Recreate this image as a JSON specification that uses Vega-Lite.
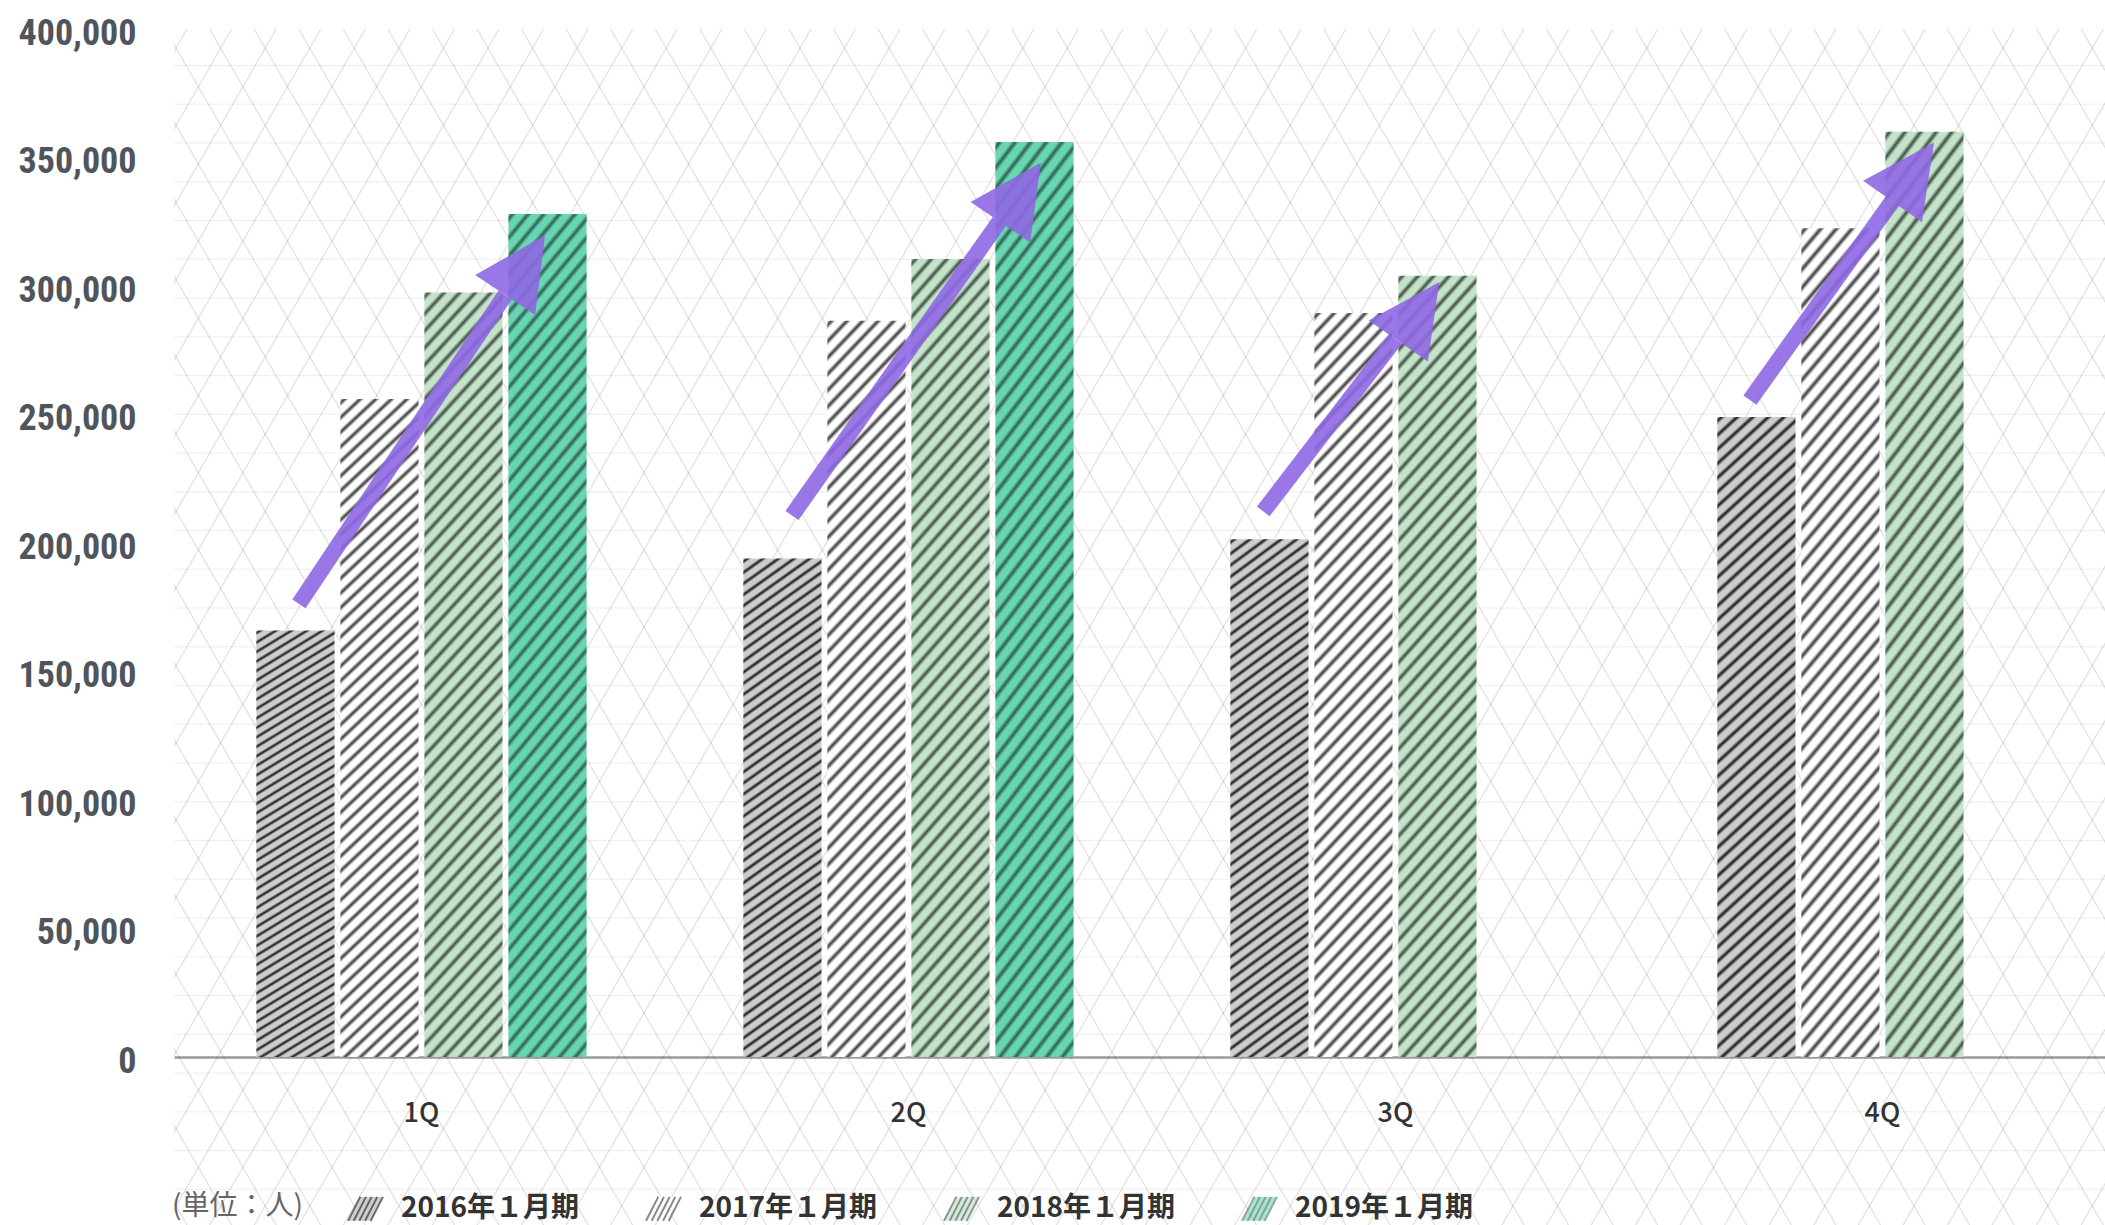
{
  "$schema": "https://vega.github.io/schema/vega-lite/v6.json",
  "width": 1931,
  "height": 1028,
  "autosize": {"type": "none"},
  "padding": {"left": 174, "top": 29, "right": 0, "bottom": 168},
  "background": "#ffffff",
  "config": {"view": {"stroke": null}, "font": "Noto Sans CJK JP"},
  "datasets": {
    "bars": [
      {"quarter": "1Q", "series": "2016年１月期", "value": 166000},
      {"quarter": "1Q", "series": "2017年１月期", "value": 256000},
      {"quarter": "1Q", "series": "2018年１月期", "value": 297500},
      {"quarter": "1Q", "series": "2019年１月期", "value": 328000},
      {"quarter": "2Q", "series": "2016年１月期", "value": 194000},
      {"quarter": "2Q", "series": "2017年１月期", "value": 286500},
      {"quarter": "2Q", "series": "2018年１月期", "value": 310500},
      {"quarter": "2Q", "series": "2019年１月期", "value": 356000},
      {"quarter": "3Q", "series": "2016年１月期", "value": 201500},
      {"quarter": "3Q", "series": "2017年１月期", "value": 289500},
      {"quarter": "3Q", "series": "2018年１月期", "value": 304000},
      {"quarter": "4Q", "series": "2016年１月期", "value": 249000},
      {"quarter": "4Q", "series": "2017年１月期", "value": 322500},
      {"quarter": "4Q", "series": "2018年１月期", "value": 360000}
    ],
    "arrows": [
      {"quarter": "1Q", "part": "start", "at": 0.516, "value": 176300},
      {"quarter": "1Q", "part": "base", "at": 3.013, "value": 296500},
      {"quarter": "1Q", "part": "tip", "at": 3.498, "value": 319800},
      {"quarter": "2Q", "part": "start", "at": 0.589, "value": 210700},
      {"quarter": "2Q", "part": "base", "at": 3.101, "value": 325100},
      {"quarter": "2Q", "part": "tip", "at": 3.604, "value": 348000},
      {"quarter": "3Q", "part": "start", "at": 0.399, "value": 212300},
      {"quarter": "3Q", "part": "base", "at": 2.0, "value": 279300},
      {"quarter": "3Q", "part": "tip", "at": 2.531, "value": 301600},
      {"quarter": "4Q", "part": "start", "at": 0.395, "value": 255600},
      {"quarter": "4Q", "part": "base", "at": 2.118, "value": 333000},
      {"quarter": "4Q", "part": "tip", "at": 2.625, "value": 355800}
    ]
  },
  "layer": [
    {
      "data": {"values": [{}]},
      "mark": {"type": "rect", "opacity": 0.06, "fill": {"gradient": "linear", "x1": 0, "y1": 0, "x2": 0, "y2": 1, "stops": [
        {"offset":0.0295,"color":"#0000"},{"offset":0.0305,"color":"#000"},{"offset":0.0315,"color":"#0000"},
        {"offset":0.0619,"color":"#0000"},{"offset":0.0629,"color":"#000"},{"offset":0.0639,"color":"#0000"},
        {"offset":0.0943,"color":"#0000"},{"offset":0.0953,"color":"#000"},{"offset":0.0963,"color":"#0000"},
        {"offset":0.1267,"color":"#0000"},{"offset":0.1277,"color":"#000"},{"offset":0.1287,"color":"#0000"},
        {"offset":0.1591,"color":"#0000"},{"offset":0.1601,"color":"#000"},{"offset":0.1611,"color":"#0000"},
        {"offset":0.1915,"color":"#0000"},{"offset":0.1925,"color":"#000"},{"offset":0.1935,"color":"#0000"},
        {"offset":0.2239,"color":"#0000"},{"offset":0.2249,"color":"#000"},{"offset":0.2259,"color":"#0000"},
        {"offset":0.2563,"color":"#0000"},{"offset":0.2573,"color":"#000"},{"offset":0.2583,"color":"#0000"},
        {"offset":0.2887,"color":"#0000"},{"offset":0.2897,"color":"#000"},{"offset":0.2907,"color":"#0000"},
        {"offset":0.3211,"color":"#0000"},{"offset":0.3221,"color":"#000"},{"offset":0.3231,"color":"#0000"},
        {"offset":0.3535,"color":"#0000"},{"offset":0.3545,"color":"#000"},{"offset":0.3555,"color":"#0000"},
        {"offset":0.3859,"color":"#0000"},{"offset":0.3869,"color":"#000"},{"offset":0.3879,"color":"#0000"},
        {"offset":0.4183,"color":"#0000"},{"offset":0.4193,"color":"#000"},{"offset":0.4203,"color":"#0000"},
        {"offset":0.4507,"color":"#0000"},{"offset":0.4517,"color":"#000"},{"offset":0.4527,"color":"#0000"},
        {"offset":0.4831,"color":"#0000"},{"offset":0.4841,"color":"#000"},{"offset":0.4851,"color":"#0000"},
        {"offset":0.5155,"color":"#0000"},{"offset":0.5165,"color":"#000"},{"offset":0.5175,"color":"#0000"},
        {"offset":0.5479,"color":"#0000"},{"offset":0.5489,"color":"#000"},{"offset":0.5499,"color":"#0000"},
        {"offset":0.5803,"color":"#0000"},{"offset":0.5813,"color":"#000"},{"offset":0.5823,"color":"#0000"},
        {"offset":0.6127,"color":"#0000"},{"offset":0.6137,"color":"#000"},{"offset":0.6147,"color":"#0000"},
        {"offset":0.6451,"color":"#0000"},{"offset":0.6461,"color":"#000"},{"offset":0.6471,"color":"#0000"},
        {"offset":0.6775,"color":"#0000"},{"offset":0.6785,"color":"#000"},{"offset":0.6795,"color":"#0000"},
        {"offset":0.7099,"color":"#0000"},{"offset":0.7109,"color":"#000"},{"offset":0.7119,"color":"#0000"},
        {"offset":0.7423,"color":"#0000"},{"offset":0.7433,"color":"#000"},{"offset":0.7443,"color":"#0000"},
        {"offset":0.7747,"color":"#0000"},{"offset":0.7757,"color":"#000"},{"offset":0.7767,"color":"#0000"},
        {"offset":0.8071,"color":"#0000"},{"offset":0.8081,"color":"#000"},{"offset":0.8091,"color":"#0000"},
        {"offset":0.8395,"color":"#0000"},{"offset":0.8405,"color":"#000"},{"offset":0.8415,"color":"#0000"},
        {"offset":0.8719,"color":"#0000"},{"offset":0.8729,"color":"#000"},{"offset":0.8739,"color":"#0000"},
        {"offset":0.9043,"color":"#0000"},{"offset":0.9053,"color":"#000"},{"offset":0.9063,"color":"#0000"},
        {"offset":0.9367,"color":"#0000"},{"offset":0.9377,"color":"#000"},{"offset":0.9387,"color":"#0000"},
        {"offset":0.9691,"color":"#0000"},{"offset":0.9701,"color":"#000"},{"offset":0.9711,"color":"#0000"}
      ]}},
      "encoding": {"y": {"datum": -65400, "type": "quantitative"}, "y2": {"datum": 400000}}
    },
    {
      "data": {"values": [{}]},
      "mark": {"type": "rect", "opacity": 0.13, "fill": {"gradient": "linear", "x1": 0, "y1": 0, "x2": 1.2036, "y2": 0.4304, "stops": [
        {"offset":0.0045,"color":"#0000"},{"offset":0.005,"color":"#000"},{"offset":0.0055,"color":"#0000"},
        {"offset":0.0215,"color":"#0000"},{"offset":0.022,"color":"#000"},{"offset":0.0225,"color":"#0000"},
        {"offset":0.0385,"color":"#0000"},{"offset":0.039,"color":"#000"},{"offset":0.0395,"color":"#0000"},
        {"offset":0.0555,"color":"#0000"},{"offset":0.056,"color":"#000"},{"offset":0.0565,"color":"#0000"},
        {"offset":0.0725,"color":"#0000"},{"offset":0.073,"color":"#000"},{"offset":0.0735,"color":"#0000"},
        {"offset":0.0895,"color":"#0000"},{"offset":0.09,"color":"#000"},{"offset":0.0905,"color":"#0000"},
        {"offset":0.1065,"color":"#0000"},{"offset":0.107,"color":"#000"},{"offset":0.1075,"color":"#0000"},
        {"offset":0.1235,"color":"#0000"},{"offset":0.124,"color":"#000"},{"offset":0.1245,"color":"#0000"},
        {"offset":0.1405,"color":"#0000"},{"offset":0.141,"color":"#000"},{"offset":0.1415,"color":"#0000"},
        {"offset":0.1575,"color":"#0000"},{"offset":0.158,"color":"#000"},{"offset":0.1585,"color":"#0000"},
        {"offset":0.1745,"color":"#0000"},{"offset":0.175,"color":"#000"},{"offset":0.1755,"color":"#0000"},
        {"offset":0.1915,"color":"#0000"},{"offset":0.192,"color":"#000"},{"offset":0.1925,"color":"#0000"},
        {"offset":0.2085,"color":"#0000"},{"offset":0.209,"color":"#000"},{"offset":0.2095,"color":"#0000"},
        {"offset":0.2255,"color":"#0000"},{"offset":0.226,"color":"#000"},{"offset":0.2265,"color":"#0000"},
        {"offset":0.2425,"color":"#0000"},{"offset":0.243,"color":"#000"},{"offset":0.2435,"color":"#0000"},
        {"offset":0.2595,"color":"#0000"},{"offset":0.26,"color":"#000"},{"offset":0.2605,"color":"#0000"},
        {"offset":0.2765,"color":"#0000"},{"offset":0.277,"color":"#000"},{"offset":0.2775,"color":"#0000"},
        {"offset":0.2935,"color":"#0000"},{"offset":0.294,"color":"#000"},{"offset":0.2945,"color":"#0000"},
        {"offset":0.3105,"color":"#0000"},{"offset":0.311,"color":"#000"},{"offset":0.3115,"color":"#0000"},
        {"offset":0.3275,"color":"#0000"},{"offset":0.328,"color":"#000"},{"offset":0.3285,"color":"#0000"},
        {"offset":0.3445,"color":"#0000"},{"offset":0.345,"color":"#000"},{"offset":0.3455,"color":"#0000"},
        {"offset":0.3615,"color":"#0000"},{"offset":0.362,"color":"#000"},{"offset":0.3625,"color":"#0000"},
        {"offset":0.3785,"color":"#0000"},{"offset":0.379,"color":"#000"},{"offset":0.3795,"color":"#0000"},
        {"offset":0.3955,"color":"#0000"},{"offset":0.396,"color":"#000"},{"offset":0.3965,"color":"#0000"},
        {"offset":0.4125,"color":"#0000"},{"offset":0.413,"color":"#000"},{"offset":0.4135,"color":"#0000"},
        {"offset":0.4295,"color":"#0000"},{"offset":0.43,"color":"#000"},{"offset":0.4305,"color":"#0000"},
        {"offset":0.4465,"color":"#0000"},{"offset":0.447,"color":"#000"},{"offset":0.4475,"color":"#0000"},
        {"offset":0.4635,"color":"#0000"},{"offset":0.464,"color":"#000"},{"offset":0.4645,"color":"#0000"},
        {"offset":0.4805,"color":"#0000"},{"offset":0.481,"color":"#000"},{"offset":0.4815,"color":"#0000"},
        {"offset":0.4975,"color":"#0000"},{"offset":0.498,"color":"#000"},{"offset":0.4985,"color":"#0000"},
        {"offset":0.5145,"color":"#0000"},{"offset":0.515,"color":"#000"},{"offset":0.5155,"color":"#0000"},
        {"offset":0.5315,"color":"#0000"},{"offset":0.532,"color":"#000"},{"offset":0.5325,"color":"#0000"},
        {"offset":0.5485,"color":"#0000"},{"offset":0.549,"color":"#000"},{"offset":0.5495,"color":"#0000"},
        {"offset":0.5655,"color":"#0000"},{"offset":0.566,"color":"#000"},{"offset":0.5665,"color":"#0000"},
        {"offset":0.5825,"color":"#0000"},{"offset":0.583,"color":"#000"},{"offset":0.5835,"color":"#0000"},
        {"offset":0.5995,"color":"#0000"},{"offset":0.6,"color":"#000"},{"offset":0.6005,"color":"#0000"},
        {"offset":0.6165,"color":"#0000"},{"offset":0.617,"color":"#000"},{"offset":0.6175,"color":"#0000"},
        {"offset":0.6335,"color":"#0000"},{"offset":0.634,"color":"#000"},{"offset":0.6345,"color":"#0000"},
        {"offset":0.6505,"color":"#0000"},{"offset":0.651,"color":"#000"},{"offset":0.6515,"color":"#0000"},
        {"offset":0.6675,"color":"#0000"},{"offset":0.668,"color":"#000"},{"offset":0.6685,"color":"#0000"},
        {"offset":0.6845,"color":"#0000"},{"offset":0.685,"color":"#000"},{"offset":0.6855,"color":"#0000"},
        {"offset":0.7015,"color":"#0000"},{"offset":0.702,"color":"#000"},{"offset":0.7025,"color":"#0000"},
        {"offset":0.7185,"color":"#0000"},{"offset":0.719,"color":"#000"},{"offset":0.7195,"color":"#0000"},
        {"offset":0.7355,"color":"#0000"},{"offset":0.736,"color":"#000"},{"offset":0.7365,"color":"#0000"},
        {"offset":0.7525,"color":"#0000"},{"offset":0.753,"color":"#000"},{"offset":0.7535,"color":"#0000"},
        {"offset":0.7695,"color":"#0000"},{"offset":0.77,"color":"#000"},{"offset":0.7705,"color":"#0000"},
        {"offset":0.7865,"color":"#0000"},{"offset":0.787,"color":"#000"},{"offset":0.7875,"color":"#0000"},
        {"offset":0.8035,"color":"#0000"},{"offset":0.804,"color":"#000"},{"offset":0.8045,"color":"#0000"},
        {"offset":0.8205,"color":"#0000"},{"offset":0.821,"color":"#000"},{"offset":0.8215,"color":"#0000"},
        {"offset":0.8375,"color":"#0000"},{"offset":0.838,"color":"#000"},{"offset":0.8385,"color":"#0000"},
        {"offset":0.8545,"color":"#0000"},{"offset":0.855,"color":"#000"},{"offset":0.8555,"color":"#0000"},
        {"offset":0.8715,"color":"#0000"},{"offset":0.872,"color":"#000"},{"offset":0.8725,"color":"#0000"},
        {"offset":0.8885,"color":"#0000"},{"offset":0.889,"color":"#000"},{"offset":0.8895,"color":"#0000"},
        {"offset":0.9055,"color":"#0000"},{"offset":0.906,"color":"#000"},{"offset":0.9065,"color":"#0000"},
        {"offset":0.9225,"color":"#0000"},{"offset":0.923,"color":"#000"},{"offset":0.9235,"color":"#0000"},
        {"offset":0.9395,"color":"#0000"},{"offset":0.94,"color":"#000"},{"offset":0.9405,"color":"#0000"},
        {"offset":0.9565,"color":"#0000"},{"offset":0.957,"color":"#000"},{"offset":0.9575,"color":"#0000"},
        {"offset":0.9735,"color":"#0000"},{"offset":0.974,"color":"#000"},{"offset":0.9745,"color":"#0000"},
        {"offset":0.9905,"color":"#0000"},{"offset":0.991,"color":"#000"},{"offset":0.9915,"color":"#0000"}
      ]}},
      "encoding": {"y": {"datum": -65400, "type": "quantitative"}, "y2": {"datum": 400000}}
    },
    {
      "data": {"values": [{}]},
      "mark": {"type": "rect", "opacity": 0.13, "fill": {"gradient": "linear", "x1": 0, "y1": 1, "x2": 1.2036, "y2": 0.5696, "stops": [
        {"offset":0.0045,"color":"#0000"},{"offset":0.005,"color":"#000"},{"offset":0.0055,"color":"#0000"},
        {"offset":0.0215,"color":"#0000"},{"offset":0.022,"color":"#000"},{"offset":0.0225,"color":"#0000"},
        {"offset":0.0385,"color":"#0000"},{"offset":0.039,"color":"#000"},{"offset":0.0395,"color":"#0000"},
        {"offset":0.0555,"color":"#0000"},{"offset":0.056,"color":"#000"},{"offset":0.0565,"color":"#0000"},
        {"offset":0.0725,"color":"#0000"},{"offset":0.073,"color":"#000"},{"offset":0.0735,"color":"#0000"},
        {"offset":0.0895,"color":"#0000"},{"offset":0.09,"color":"#000"},{"offset":0.0905,"color":"#0000"},
        {"offset":0.1065,"color":"#0000"},{"offset":0.107,"color":"#000"},{"offset":0.1075,"color":"#0000"},
        {"offset":0.1235,"color":"#0000"},{"offset":0.124,"color":"#000"},{"offset":0.1245,"color":"#0000"},
        {"offset":0.1405,"color":"#0000"},{"offset":0.141,"color":"#000"},{"offset":0.1415,"color":"#0000"},
        {"offset":0.1575,"color":"#0000"},{"offset":0.158,"color":"#000"},{"offset":0.1585,"color":"#0000"},
        {"offset":0.1745,"color":"#0000"},{"offset":0.175,"color":"#000"},{"offset":0.1755,"color":"#0000"},
        {"offset":0.1915,"color":"#0000"},{"offset":0.192,"color":"#000"},{"offset":0.1925,"color":"#0000"},
        {"offset":0.2085,"color":"#0000"},{"offset":0.209,"color":"#000"},{"offset":0.2095,"color":"#0000"},
        {"offset":0.2255,"color":"#0000"},{"offset":0.226,"color":"#000"},{"offset":0.2265,"color":"#0000"},
        {"offset":0.2425,"color":"#0000"},{"offset":0.243,"color":"#000"},{"offset":0.2435,"color":"#0000"},
        {"offset":0.2595,"color":"#0000"},{"offset":0.26,"color":"#000"},{"offset":0.2605,"color":"#0000"},
        {"offset":0.2765,"color":"#0000"},{"offset":0.277,"color":"#000"},{"offset":0.2775,"color":"#0000"},
        {"offset":0.2935,"color":"#0000"},{"offset":0.294,"color":"#000"},{"offset":0.2945,"color":"#0000"},
        {"offset":0.3105,"color":"#0000"},{"offset":0.311,"color":"#000"},{"offset":0.3115,"color":"#0000"},
        {"offset":0.3275,"color":"#0000"},{"offset":0.328,"color":"#000"},{"offset":0.3285,"color":"#0000"},
        {"offset":0.3445,"color":"#0000"},{"offset":0.345,"color":"#000"},{"offset":0.3455,"color":"#0000"},
        {"offset":0.3615,"color":"#0000"},{"offset":0.362,"color":"#000"},{"offset":0.3625,"color":"#0000"},
        {"offset":0.3785,"color":"#0000"},{"offset":0.379,"color":"#000"},{"offset":0.3795,"color":"#0000"},
        {"offset":0.3955,"color":"#0000"},{"offset":0.396,"color":"#000"},{"offset":0.3965,"color":"#0000"},
        {"offset":0.4125,"color":"#0000"},{"offset":0.413,"color":"#000"},{"offset":0.4135,"color":"#0000"},
        {"offset":0.4295,"color":"#0000"},{"offset":0.43,"color":"#000"},{"offset":0.4305,"color":"#0000"},
        {"offset":0.4465,"color":"#0000"},{"offset":0.447,"color":"#000"},{"offset":0.4475,"color":"#0000"},
        {"offset":0.4635,"color":"#0000"},{"offset":0.464,"color":"#000"},{"offset":0.4645,"color":"#0000"},
        {"offset":0.4805,"color":"#0000"},{"offset":0.481,"color":"#000"},{"offset":0.4815,"color":"#0000"},
        {"offset":0.4975,"color":"#0000"},{"offset":0.498,"color":"#000"},{"offset":0.4985,"color":"#0000"},
        {"offset":0.5145,"color":"#0000"},{"offset":0.515,"color":"#000"},{"offset":0.5155,"color":"#0000"},
        {"offset":0.5315,"color":"#0000"},{"offset":0.532,"color":"#000"},{"offset":0.5325,"color":"#0000"},
        {"offset":0.5485,"color":"#0000"},{"offset":0.549,"color":"#000"},{"offset":0.5495,"color":"#0000"},
        {"offset":0.5655,"color":"#0000"},{"offset":0.566,"color":"#000"},{"offset":0.5665,"color":"#0000"},
        {"offset":0.5825,"color":"#0000"},{"offset":0.583,"color":"#000"},{"offset":0.5835,"color":"#0000"},
        {"offset":0.5995,"color":"#0000"},{"offset":0.6,"color":"#000"},{"offset":0.6005,"color":"#0000"},
        {"offset":0.6165,"color":"#0000"},{"offset":0.617,"color":"#000"},{"offset":0.6175,"color":"#0000"},
        {"offset":0.6335,"color":"#0000"},{"offset":0.634,"color":"#000"},{"offset":0.6345,"color":"#0000"},
        {"offset":0.6505,"color":"#0000"},{"offset":0.651,"color":"#000"},{"offset":0.6515,"color":"#0000"},
        {"offset":0.6675,"color":"#0000"},{"offset":0.668,"color":"#000"},{"offset":0.6685,"color":"#0000"},
        {"offset":0.6845,"color":"#0000"},{"offset":0.685,"color":"#000"},{"offset":0.6855,"color":"#0000"},
        {"offset":0.7015,"color":"#0000"},{"offset":0.702,"color":"#000"},{"offset":0.7025,"color":"#0000"},
        {"offset":0.7185,"color":"#0000"},{"offset":0.719,"color":"#000"},{"offset":0.7195,"color":"#0000"},
        {"offset":0.7355,"color":"#0000"},{"offset":0.736,"color":"#000"},{"offset":0.7365,"color":"#0000"},
        {"offset":0.7525,"color":"#0000"},{"offset":0.753,"color":"#000"},{"offset":0.7535,"color":"#0000"},
        {"offset":0.7695,"color":"#0000"},{"offset":0.77,"color":"#000"},{"offset":0.7705,"color":"#0000"},
        {"offset":0.7865,"color":"#0000"},{"offset":0.787,"color":"#000"},{"offset":0.7875,"color":"#0000"},
        {"offset":0.8035,"color":"#0000"},{"offset":0.804,"color":"#000"},{"offset":0.8045,"color":"#0000"},
        {"offset":0.8205,"color":"#0000"},{"offset":0.821,"color":"#000"},{"offset":0.8215,"color":"#0000"},
        {"offset":0.8375,"color":"#0000"},{"offset":0.838,"color":"#000"},{"offset":0.8385,"color":"#0000"},
        {"offset":0.8545,"color":"#0000"},{"offset":0.855,"color":"#000"},{"offset":0.8555,"color":"#0000"},
        {"offset":0.8715,"color":"#0000"},{"offset":0.872,"color":"#000"},{"offset":0.8725,"color":"#0000"},
        {"offset":0.8885,"color":"#0000"},{"offset":0.889,"color":"#000"},{"offset":0.8895,"color":"#0000"},
        {"offset":0.9055,"color":"#0000"},{"offset":0.906,"color":"#000"},{"offset":0.9065,"color":"#0000"},
        {"offset":0.9225,"color":"#0000"},{"offset":0.923,"color":"#000"},{"offset":0.9235,"color":"#0000"},
        {"offset":0.9395,"color":"#0000"},{"offset":0.94,"color":"#000"},{"offset":0.9405,"color":"#0000"},
        {"offset":0.9565,"color":"#0000"},{"offset":0.957,"color":"#000"},{"offset":0.9575,"color":"#0000"},
        {"offset":0.9735,"color":"#0000"},{"offset":0.974,"color":"#000"},{"offset":0.9745,"color":"#0000"},
        {"offset":0.9905,"color":"#0000"},{"offset":0.991,"color":"#000"},{"offset":0.9915,"color":"#0000"}
      ]}},
      "encoding": {"y": {"datum": -65400, "type": "quantitative"}, "y2": {"datum": 400000}}
    },
    {
      "data": {"name": "bars"},
      "mark": {"type": "bar", "strokeWidth": 0, "opacity": 0.93},
      "encoding": {
        "x": {"field": "quarter", "type": "nominal", "sort": ["1Q", "2Q", "3Q", "4Q"],
          "scale": {"paddingInner": 0.322, "paddingOuter": 0.1436, "align": 0.589},
          "axis": {"title": null, "labelAngle": 0, "ticks": false, "domain": true, "domainColor": "#9a9a9a", "domainWidth": 2.5, "grid": false,
            "labelFontSize": 27, "labelColor": "#333333", "labelFontWeight": 500, "labelPadding": 43, "labelFont": "Noto Sans CJK JP"}},
        "xOffset": {"field": "series", "type": "nominal",
          "scale": {"domain": ["2016年１月期", "2017年１月期", "2018年１月期", "2019年１月期"], "paddingInner": 0.07, "paddingOuter": 0}},
        "y": {"field": "value", "type": "quantitative",
          "scale": {"domain": [0, 400000], "nice": false},
          "axis": {"title": null, "values": [0, 50000, 100000, 150000, 200000, 250000, 300000, 350000, 400000], "format": ",d",
            "domain": false, "ticks": false, "grid": false, "labelFont": "Roboto Condensed, Roboto",
            "labelFontWeight": "bold", "labelFontSize": 36, "labelColor": "#50555d", "labelPadding": 38, "labelOffset": 4}},
        "color": {"field": "series", "type": "nominal",
          "scale": {"domain": ["2016年１月期", "2017年１月期", "2018年１月期", "2019年１月期"], "range": ["#c9c9c9", "#ffffff", "#bfe2c6", "#5cd3ac"]},
          "legend": {
            "title": "(単位：人)", "orient": "none", "legendX": -2, "legendY": 1161, "direction": "horizontal",
            "titleOrient": "left", "titleFontSize": 28, "titleFontWeight": "normal", "titleColor": "#666666", "titlePadding": 44, "titleFont": "Noto Sans CJK JP",
            "titleBaseline": "middle",
            "labelFontSize": 28, "labelFont": "Noto Sans CJK JP", "labelFontWeight": "bold", "labelColor": "#333333", "labelOffset": 17, "labelLimit": 400,
            "symbolType": "M-1,0.68L-0.3,-0.68L1,-0.68L0.3,0.68ZM-0.675,0.68L0.025,-0.68M-0.35,0.68L0.35,-0.68M-0.025,0.68L0.675,-0.68",
            "symbolSize": 1225, "symbolStrokeWidth": 2, "symbolStrokeColor": "rgba(0,0,0,0.6)", "symbolDash": [26.77, 22.75, 26.77, 22.75],
            "symbolOpacity": 1, "columnPadding": 62
          }}
      }
    },
    {
      "data": {"name": "bars"},
      "mark": {"type": "bar", "strokeWidth": 0, "fill": {"gradient": "linear", "x1": 0, "y1": 0, "x2": 0.1223, "y2": 1.0978, "stops": [
        {"offset":0,"color":"#0000"},{"offset":0.0055,"color":"#000"},{"offset":0.011,"color":"#0000"},
        {"offset":0.02,"color":"#0000"},{"offset":0.0255,"color":"#000"},{"offset":0.031,"color":"#0000"},
        {"offset":0.04,"color":"#0000"},{"offset":0.0455,"color":"#000"},{"offset":0.051,"color":"#0000"},
        {"offset":0.06,"color":"#0000"},{"offset":0.0655,"color":"#000"},{"offset":0.071,"color":"#0000"},
        {"offset":0.08,"color":"#0000"},{"offset":0.0855,"color":"#000"},{"offset":0.091,"color":"#0000"},
        {"offset":0.1,"color":"#0000"},{"offset":0.1055,"color":"#000"},{"offset":0.111,"color":"#0000"},
        {"offset":0.12,"color":"#0000"},{"offset":0.1255,"color":"#000"},{"offset":0.131,"color":"#0000"},
        {"offset":0.14,"color":"#0000"},{"offset":0.1455,"color":"#000"},{"offset":0.151,"color":"#0000"},
        {"offset":0.16,"color":"#0000"},{"offset":0.1655,"color":"#000"},{"offset":0.171,"color":"#0000"},
        {"offset":0.18,"color":"#0000"},{"offset":0.1855,"color":"#000"},{"offset":0.191,"color":"#0000"},
        {"offset":0.2,"color":"#0000"},{"offset":0.2055,"color":"#000"},{"offset":0.211,"color":"#0000"},
        {"offset":0.22,"color":"#0000"},{"offset":0.2255,"color":"#000"},{"offset":0.231,"color":"#0000"},
        {"offset":0.24,"color":"#0000"},{"offset":0.2455,"color":"#000"},{"offset":0.251,"color":"#0000"},
        {"offset":0.26,"color":"#0000"},{"offset":0.2655,"color":"#000"},{"offset":0.271,"color":"#0000"},
        {"offset":0.28,"color":"#0000"},{"offset":0.2855,"color":"#000"},{"offset":0.291,"color":"#0000"},
        {"offset":0.3,"color":"#0000"},{"offset":0.3055,"color":"#000"},{"offset":0.311,"color":"#0000"},
        {"offset":0.32,"color":"#0000"},{"offset":0.3255,"color":"#000"},{"offset":0.331,"color":"#0000"},
        {"offset":0.34,"color":"#0000"},{"offset":0.3455,"color":"#000"},{"offset":0.351,"color":"#0000"},
        {"offset":0.36,"color":"#0000"},{"offset":0.3655,"color":"#000"},{"offset":0.371,"color":"#0000"},
        {"offset":0.38,"color":"#0000"},{"offset":0.3855,"color":"#000"},{"offset":0.391,"color":"#0000"},
        {"offset":0.4,"color":"#0000"},{"offset":0.4055,"color":"#000"},{"offset":0.411,"color":"#0000"},
        {"offset":0.42,"color":"#0000"},{"offset":0.4255,"color":"#000"},{"offset":0.431,"color":"#0000"},
        {"offset":0.44,"color":"#0000"},{"offset":0.4455,"color":"#000"},{"offset":0.451,"color":"#0000"},
        {"offset":0.46,"color":"#0000"},{"offset":0.4655,"color":"#000"},{"offset":0.471,"color":"#0000"},
        {"offset":0.48,"color":"#0000"},{"offset":0.4855,"color":"#000"},{"offset":0.491,"color":"#0000"},
        {"offset":0.5,"color":"#0000"},{"offset":0.5055,"color":"#000"},{"offset":0.511,"color":"#0000"},
        {"offset":0.52,"color":"#0000"},{"offset":0.5255,"color":"#000"},{"offset":0.531,"color":"#0000"},
        {"offset":0.54,"color":"#0000"},{"offset":0.5455,"color":"#000"},{"offset":0.551,"color":"#0000"},
        {"offset":0.56,"color":"#0000"},{"offset":0.5655,"color":"#000"},{"offset":0.571,"color":"#0000"},
        {"offset":0.58,"color":"#0000"},{"offset":0.5855,"color":"#000"},{"offset":0.591,"color":"#0000"},
        {"offset":0.6,"color":"#0000"},{"offset":0.6055,"color":"#000"},{"offset":0.611,"color":"#0000"},
        {"offset":0.62,"color":"#0000"},{"offset":0.6255,"color":"#000"},{"offset":0.631,"color":"#0000"},
        {"offset":0.64,"color":"#0000"},{"offset":0.6455,"color":"#000"},{"offset":0.651,"color":"#0000"},
        {"offset":0.66,"color":"#0000"},{"offset":0.6655,"color":"#000"},{"offset":0.671,"color":"#0000"},
        {"offset":0.68,"color":"#0000"},{"offset":0.6855,"color":"#000"},{"offset":0.691,"color":"#0000"},
        {"offset":0.7,"color":"#0000"},{"offset":0.7055,"color":"#000"},{"offset":0.711,"color":"#0000"},
        {"offset":0.72,"color":"#0000"},{"offset":0.7255,"color":"#000"},{"offset":0.731,"color":"#0000"},
        {"offset":0.74,"color":"#0000"},{"offset":0.7455,"color":"#000"},{"offset":0.751,"color":"#0000"},
        {"offset":0.76,"color":"#0000"},{"offset":0.7655,"color":"#000"},{"offset":0.771,"color":"#0000"},
        {"offset":0.78,"color":"#0000"},{"offset":0.7855,"color":"#000"},{"offset":0.791,"color":"#0000"},
        {"offset":0.8,"color":"#0000"},{"offset":0.8055,"color":"#000"},{"offset":0.811,"color":"#0000"},
        {"offset":0.82,"color":"#0000"},{"offset":0.8255,"color":"#000"},{"offset":0.831,"color":"#0000"},
        {"offset":0.84,"color":"#0000"},{"offset":0.8455,"color":"#000"},{"offset":0.851,"color":"#0000"},
        {"offset":0.86,"color":"#0000"},{"offset":0.8655,"color":"#000"},{"offset":0.871,"color":"#0000"},
        {"offset":0.88,"color":"#0000"},{"offset":0.8855,"color":"#000"},{"offset":0.891,"color":"#0000"},
        {"offset":0.9,"color":"#0000"},{"offset":0.9055,"color":"#000"},{"offset":0.911,"color":"#0000"},
        {"offset":0.92,"color":"#0000"},{"offset":0.9255,"color":"#000"},{"offset":0.931,"color":"#0000"},
        {"offset":0.94,"color":"#0000"},{"offset":0.9455,"color":"#000"},{"offset":0.951,"color":"#0000"},
        {"offset":0.96,"color":"#0000"},{"offset":0.9655,"color":"#000"},{"offset":0.971,"color":"#0000"},
        {"offset":0.98,"color":"#0000"},{"offset":0.9855,"color":"#000"},{"offset":0.991,"color":"#0000"}
      ]}},
      "encoding": {
        "x": {"field": "quarter", "type": "nominal", "sort": ["1Q", "2Q", "3Q", "4Q"]},
        "xOffset": {"field": "series", "type": "nominal",
          "scale": {"domain": ["2016年１月期", "2017年１月期", "2018年１月期", "2019年１月期"], "paddingInner": 0.07, "paddingOuter": 0}},
        "y": {"field": "value", "type": "quantitative"},
        "opacity": {"field": "series", "type": "nominal",
          "scale": {"domain": ["2016年１月期", "2017年１月期", "2018年１月期", "2019年１月期"], "range": [0.88, 0.55, 0.62, 0.55]},
          "legend": null}
      }
    },
    {
      "data": {"name": "arrows"},
      "transform": [{"filter": "datum.part !== 'tip'"}],
      "mark": {"type": "line", "color": "#8f68e3", "strokeWidth": 16, "opacity": 0.9, "strokeCap": "butt"},
      "encoding": {
        "x": {"field": "quarter", "type": "nominal", "sort": ["1Q", "2Q", "3Q", "4Q"]},
        "xOffset": {"field": "at", "type": "quantitative", "scale": {"domain": [0, 4], "nice": false, "zero": false}},
        "y": {"field": "value", "type": "quantitative"},
        "detail": {"field": "quarter", "type": "nominal"},
        "order": {"field": "value", "type": "quantitative"}
      }
    },
    {
      "data": {"name": "arrows"},
      "transform": [{"filter": "datum.part === 'tip'"}],
      "mark": {"type": "point", "filled": true, "color": "#8f68e3", "opacity": 0.9, "strokeWidth": 0, "size": 20736, "shape": "M0,0L0.5,1L-0.5,1Z"},
      "encoding": {
        "x": {"field": "quarter", "type": "nominal", "sort": ["1Q", "2Q", "3Q", "4Q"]},
        "xOffset": {"field": "at", "type": "quantitative", "scale": {"domain": [0, 4], "nice": false, "zero": false}},
        "y": {"field": "value", "type": "quantitative"},
        "angle": {"field": "quarter", "type": "nominal", "scale": {"domain": ["1Q", "2Q", "3Q", "4Q"], "range": [33.7, 35.2, 37.4, 35.6]}, "legend": null}
      }
    }
  ],
  "resolve": {"scale": {"xOffset": "independent"}}
}
